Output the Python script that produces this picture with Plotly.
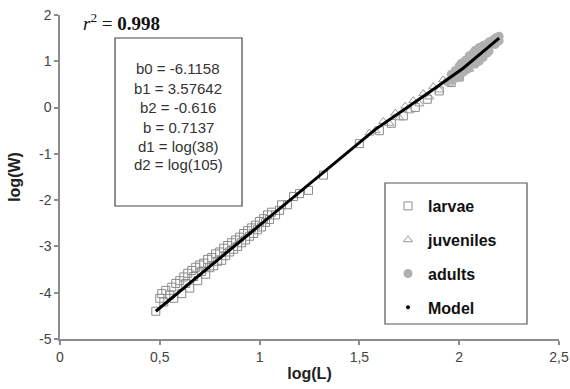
import plotly.graph_objects as go

# ---------------- data ----------------
larvae_x = [0.48,0.50,0.51,0.52,0.53,0.55,0.56,0.57,0.58,0.60,0.61,0.62,0.63,0.64,0.65,0.66,0.67,0.68,0.69,0.70,
            0.71,0.72,0.73,0.74,0.75,0.76,0.77,0.78,0.79,0.80,0.81,0.82,0.83,0.84,0.85,0.86,0.87,0.88,0.89,0.90,
            0.91,0.92,0.93,0.94,0.95,0.96,0.97,0.98,0.99,1.00,1.01,1.02,1.03,1.04,1.05,1.06,1.08,1.10,1.11,1.14,
            1.17,1.20,1.245,1.32,1.50,1.60,1.66,1.72,1.78,1.84,1.90,1.96,2.00]
larvae_y = [-4.40,-4.12,-4.02,-4.20,-3.95,-4.05,-3.88,-4.12,-3.80,-3.74,-4.02,-3.66,-3.80,-3.58,-3.90,-3.52,-3.65,-3.45,-3.74,-3.40,
            -3.54,-3.36,-3.60,-3.28,-3.46,-3.24,-3.42,-3.16,-3.32,-3.12,-3.30,-3.04,-3.20,-2.98,-3.12,-2.92,-3.06,-2.86,-3.00,-2.80,
            -2.92,-2.72,-2.86,-2.66,-2.78,-2.60,-2.72,-2.54,-2.64,-2.46,-2.58,-2.40,-2.48,-2.32,-2.42,-2.26,-2.32,-2.22,-2.10,-2.10,
            -1.92,-1.86,-1.79,-1.46,-0.78,-0.50,-0.34,-0.18,0.00,0.18,0.36,0.54,0.66]

juveniles_x = [1.55,1.58,1.62,1.65,1.68,1.70,1.73,1.75,1.77,1.80,1.82,1.85,1.87,1.90,1.92,1.95,1.97,2.00,2.02,2.05]
juveniles_y = [-0.55,-0.50,-0.30,-0.34,-0.12,-0.22,0.03,-0.07,0.15,0.08,0.30,0.23,0.45,0.38,0.60,0.53,0.75,0.68,0.88,0.83]

adults_x = [1.94,1.96,1.97,1.98,2.00,2.00,2.01,2.02,2.03,2.04,2.05,2.05,2.06,2.07,2.08,2.08,2.09,
            2.10,2.10,2.11,2.12,2.12,2.13,2.14,2.15,2.15,2.16,2.17,2.18,2.18,2.19,2.20,2.20,2.06,2.11,2.14]
adults_y = [0.56,0.72,0.60,0.80,0.90,0.66,0.96,0.76,1.02,0.82,1.12,0.86,0.96,1.18,0.94,1.24,1.06,
            1.30,1.00,1.20,1.34,1.08,1.22,1.38,1.42,1.22,1.36,1.46,1.50,1.36,1.52,1.54,1.44,1.08,1.28,1.18]

model_x = [0.48, 1.58, 1.85, 2.02, 2.20]
model_y = [-4.40, -0.47, 0.33, 0.85, 1.50]

x_ticks = [0, 0.5, 1, 1.5, 2, 2.5]
x_tick_labels = ["0", "0,5", "1", "1,5", "2", "2,5"]
y_ticks = [-5, -4, -3, -2, -1, 0, 1, 2]
y_tick_labels = ["-5", "-4", "-3", "-2", "-1", "0", "1", "2"]

series_names = ["larvae", "juveniles", "adults", "Model"]
params = ["b0 = -6.1158", "b1 = 3.57642", "b2 = -0.616", "b = 0.7137", "d1 = log(38)", "d2 = log(105)"]
r2_text = "<i>r</i><sup>2</sup> = <b>0.998</b>"

# ---------------- figure ----------------
W, H = 570, 389
L, R, T, B = 60, 11, 15, 50
pw, ph = W - L - R, H - T - B

def px_x(p):
    return (p - L) / pw

def px_y(p):
    return (H - B - p) / ph

fig = go.Figure()

fig.add_trace(go.Scatter(
    x=larvae_x, y=larvae_y, mode="markers", name="<b>%s</b>" % series_names[0], legendgroup="a",
    marker=dict(symbol="square-open", size=8, color="#8a8a8a", line=dict(width=1))))
fig.add_trace(go.Scatter(
    x=juveniles_x, y=juveniles_y, mode="markers", name="<b>%s</b>" % series_names[1], legendgroup="b",
    marker=dict(symbol="triangle-up-open", size=8, color="#999999", line=dict(width=1))))
fig.add_trace(go.Scatter(
    x=adults_x, y=adults_y, mode="markers", name="<b>%s</b>" % series_names[2], legendgroup="c",
    marker=dict(symbol="circle", size=9, color="#b0b0b0")))
fig.add_trace(go.Scatter(
    x=model_x, y=model_y, mode="lines", name=series_names[3], legendgroup="d", showlegend=False,
    line=dict(color="black", width=3)))
fig.add_trace(go.Scatter(
    x=[None], y=[None], mode="markers", name="<b>%s</b>" % series_names[3], legendgroup="d",
    marker=dict(symbol="circle", size=4, color="black")))

axis_common = dict(
    showgrid=False, zeroline=False, showline=True, linecolor="#8c8c8c", linewidth=1.5,
    ticks="outside", ticklen=4, tickcolor="#8c8c8c", tickwidth=1.5, automargin=False,
    tickfont=dict(family="Liberation Sans, Arial", size=14, color="#444444"),
)

fig.update_layout(
    width=W, height=H,
    margin=dict(l=L, r=R, t=T, b=B, autoexpand=False),
    paper_bgcolor="white", plot_bgcolor="white",
    showlegend=True,
    legend=dict(
        x=px_x(388), y=px_y(189), xanchor="left", yanchor="top",
        bgcolor="rgba(0,0,0,0)", borderwidth=0, tracegroupgap=10,
        font=dict(family="Liberation Sans, Arial", size=16, color="#111111"),
    ),
    xaxis=dict(range=[0, 2.5], tickvals=x_ticks, ticktext=x_tick_labels,
               title=dict(text="<b>log(L)</b>", standoff=4,
                          font=dict(family="Liberation Sans, Arial", size=16, color="#222222")),
               **axis_common),
    yaxis=dict(range=[-5, 2], tickvals=y_ticks, ticktext=y_tick_labels,
               title=dict(text="<b>log(W)</b>", standoff=14,
                          font=dict(family="Liberation Sans, Arial", size=16, color="#222222")),
               **axis_common),
)

# legend frame
fig.add_shape(type="rect", xref="paper", yref="paper",
              x0=px_x(385), x1=px_x(527), y0=px_y(324), y1=px_y(183),
              line=dict(color="#555555", width=1.2), fillcolor="rgba(0,0,0,0)")
# parameter box
fig.add_shape(type="rect", xref="paper", yref="paper",
              x0=px_x(115), x1=px_x(242), y0=px_y(206), y1=px_y(38),
              line=dict(color="#444444", width=1.2), fillcolor="rgba(0,0,0,0)")

line_px = [69, 88, 107, 127, 146, 165]
for txt, py in zip(params, line_px):
    fig.add_annotation(x=px_x(178), y=px_y(py), xref="paper", yref="paper",
                       text=txt, showarrow=False, xanchor="center", yanchor="middle",
                       font=dict(family="Liberation Sans, Arial", size=15, color="#333333"))

fig.add_annotation(x=px_x(81), y=px_y(22), xref="paper", yref="paper",
                   text=r2_text, showarrow=False, xanchor="left", yanchor="middle",
                   font=dict(family="Liberation Serif, Times New Roman", size=19, color="#111111"))

fig.write_html("out.html")
